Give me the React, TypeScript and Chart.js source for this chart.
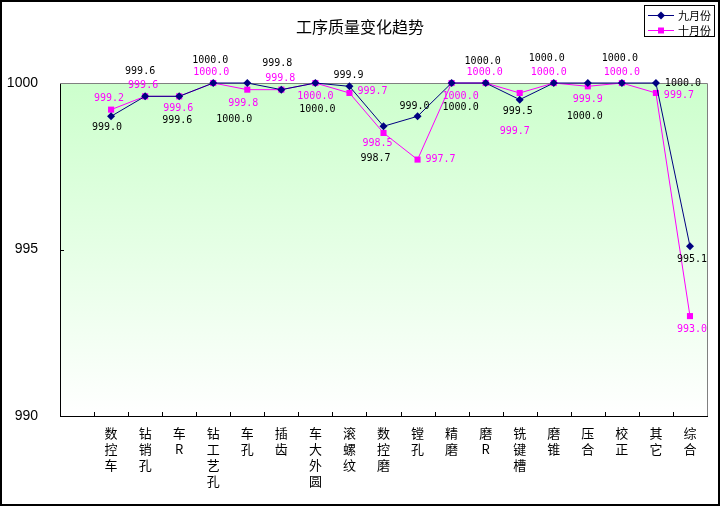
import { useEffect, useRef } from 'react';
import { Chart, registerables } from 'chart.js';

Chart.register(...registerables);

const chartTitle = '工序质量变化趋势';
const categories = ['', '数控车', '钻销孔', '车R', '钻工艺孔', '车孔', '插齿', '车大外圆', '滚螺纹', '数控磨', '镗孔', '精磨', '磨R', '铣键槽', '磨锥', '压合', '校正', '其它', '综合'];
const seriesNames = ['九月份', '十月份'];
const sepValues = [null, 999.0, 999.6, 999.6, 1000.0, 1000.0, 999.8, 1000.0, 999.9, 998.7, 999.0, 1000.0, 1000.0, 999.5, 1000.0, 1000.0, 1000.0, 1000.0, 995.1];
const octValues = [null, 999.2, 999.6, 999.6, 1000.0, 999.8, 999.8, 1000.0, 999.7, 998.5, 997.7, 1000.0, 1000.0, 999.7, 1000.0, 999.9, 1000.0, 999.7, 993.0];
const yMin = 990;
const yMax = 1000;
const yStep = 5;

// label placement (dx, dy from the point), styling only
const sepLabelOffsets: (number[] | null)[] = [null, [-4, 11], [-5, -25], [-2, 24], [-3, -23], [-13, 36], [-4, -26], [2, 26], [-1, -11], [-8, 32], [-3, -10], [9, 24], [-3, -22], [-2, 12], [-7, -25], [-3, 33], [-2, -25], [27, 0], [2, 13]];
const octLabelOffsets: (number[] | null)[] = [null, [-2, -11], [-2, -11], [-1, 12], [-2, -11], [-4, 14], [-1, -11], [0, 13], [23, -2], [-6, 10], [23, 0], [9, 13], [-1, -11], [-5, 38], [-5, -11], [0, 13], [0, -11], [23, 2], [2, 13]];

const NAVY = '#000080';
const MAGENTA = '#ff00ff';

const decorPlugin = {
  id: 'decor',
  beforeDraw(chart: any) {
    const { ctx, chartArea: a, width, height } = chart;
    ctx.save();
    ctx.fillStyle = '#ffffff';
    ctx.fillRect(0, 0, width, height);
    const g = ctx.createLinearGradient(0, a.top, 0, a.bottom);
    g.addColorStop(0, '#ccffcc');
    g.addColorStop(1, '#ffffff');
    ctx.fillStyle = g;
    ctx.fillRect(a.left, a.top, a.right - a.left, a.bottom - a.top);
    ctx.restore();
  },
  beforeDatasetsDraw(chart: any) {
    const { ctx, chartArea: a } = chart;
    ctx.save();
    ctx.strokeStyle = '#808080';
    ctx.lineWidth = 1;
    ctx.beginPath();
    ctx.moveTo(a.left, Math.round(a.top) + 0.5);
    ctx.lineTo(Math.round(a.right) + 0.5, Math.round(a.top) + 0.5);
    ctx.lineTo(Math.round(a.right) + 0.5, a.bottom);
    ctx.stroke();
    // inner tick marks
    ctx.strokeStyle = '#000000';
    const ys = chart.scales.y;
    const n = categories.length;
    const w = (a.right - a.left) / n;
    ctx.beginPath();
    for (let i = 1; i < n; i++) {
      const x = Math.round(a.left + w * i) + 0.5;
      ctx.moveTo(x, a.bottom);
      ctx.lineTo(x, a.bottom - 4);
    }
    for (let v = yMin + yStep; v < yMax; v += yStep) {
      const y = Math.round(ys.getPixelForValue(v)) + 0.5;
      ctx.moveTo(a.left, y);
      ctx.lineTo(a.left + 4, y);
    }
    ctx.stroke();
    ctx.restore();
  },
  afterDatasetsDraw(chart: any) {
    const { ctx } = chart;
    ctx.save();
    ctx.font = '10px "DejaVu Sans Mono"';
    ctx.textAlign = 'center';
    ctx.textBaseline = 'middle';
    const sets = [
      { idx: 0, values: sepValues, offs: sepLabelOffsets, color: '#000000' },
      { idx: 1, values: octValues, offs: octLabelOffsets, color: MAGENTA },
    ];
    sets.forEach((s) => {
      const meta = chart.getDatasetMeta(s.idx);
      ctx.fillStyle = s.color;
      s.values.forEach((v, i) => {
        const o = s.offs[i];
        if (v == null || !o) return;
        const el = meta.data[i];
        ctx.fillText((v as number).toFixed(1), el.x + o[0], el.y + o[1]);
      });
    });
    ctx.restore();
  },
  afterDraw(chart: any) {
    const { ctx } = chart;
    ctx.save();
    // title
    ctx.fillStyle = '#000000';
    ctx.font = '16px "Noto Sans CJK SC"';
    ctx.textAlign = 'center';
    ctx.textBaseline = 'middle';
    ctx.fillText(chartTitle, 360, 27);
    // legend
    ctx.fillStyle = '#ffffff';
    ctx.fillRect(644.5, 5.5, 70, 31);
    ctx.strokeStyle = '#000000';
    ctx.lineWidth = 1;
    ctx.strokeRect(644.5, 5.5, 70, 31);
    const rows = [
      { y: 15.5, color: NAVY, style: 'diamond' },
      { y: 30.5, color: MAGENTA, style: 'square' },
    ];
    rows.forEach((r, i) => {
      ctx.strokeStyle = r.color;
      ctx.beginPath();
      ctx.moveTo(648, r.y);
      ctx.lineTo(674, r.y);
      ctx.stroke();
      ctx.fillStyle = r.color;
      ctx.beginPath();
      if (r.style === 'diamond') {
        ctx.moveTo(661, r.y - 4);
        ctx.lineTo(665, r.y);
        ctx.lineTo(661, r.y + 4);
        ctx.lineTo(657, r.y);
        ctx.closePath();
      } else {
        ctx.rect(658, r.y - 3, 6, 6);
      }
      ctx.fill();
      ctx.fillStyle = '#000000';
      ctx.font = '11px "Noto Sans CJK SC"';
      ctx.textAlign = 'left';
      ctx.textBaseline = 'middle';
      ctx.fillText(seriesNames[i], 678, r.y);
    });
    // outer frame
    ctx.strokeStyle = '#000000';
    ctx.lineWidth = 2;
    ctx.strokeRect(1, 1, 718, 504);
    ctx.restore();
  },
};

export default function App() {
  const ref = useRef<HTMLCanvasElement | null>(null);
  useEffect(() => {
    document.body.style.margin = '0';
    const canvas = ref.current;
    if (!canvas) return;
    const chart = new Chart(canvas, {
      type: 'line',
      data: {
        labels: categories.map((c) => c.split('')),
        datasets: [
          {
            label: seriesNames[0],
            data: sepValues,
            borderColor: NAVY,
            backgroundColor: NAVY,
            borderWidth: 1,
            pointStyle: 'rectRot',
            pointRadius: 4,
            pointBorderWidth: 0,
            pointBackgroundColor: NAVY,
            tension: 0,
            clip: false,
          },
          {
            label: seriesNames[1],
            data: octValues,
            borderColor: MAGENTA,
            backgroundColor: MAGENTA,
            borderWidth: 1,
            pointStyle: 'rect',
            pointRadius: 4.3,
            pointBorderWidth: 0,
            pointBackgroundColor: MAGENTA,
            tension: 0,
            clip: false,
          },
        ],
      },
      options: {
        animation: false,
        responsive: false,
        devicePixelRatio: 1,
        layout: { padding: { top: 83, right: 14, bottom: 0, left: 0 } },
        plugins: {
          legend: { display: false },
          title: { display: false },
          tooltip: { enabled: false },
        },
        events: [],
        scales: {
          x: {
            type: 'category',
            offset: true,
            grid: { display: false, drawTicks: false },
            border: { display: true, color: '#000000', width: 1 },
            ticks: {
              autoSkip: false,
              maxRotation: 0,
              minRotation: 0,
              padding: 9,
              color: '#000000',
              font: { family: '"Noto Sans CJK SC"', size: 13, lineHeight: '16px' },
            },
            afterFit(scale: any) {
              scale.height = 91;
            },
          },
          y: {
            min: yMin,
            max: yMax,
            grid: { display: false, drawTicks: false },
            border: { display: true, color: '#000000', width: 1 },
            ticks: {
              stepSize: yStep,
              padding: 22,
              color: '#000000',
              font: { family: '"Liberation Sans"', size: 14 },
              callback: (v: any) => String(v),
            },
            afterFit(scale: any) {
              scale.width = 60;
            },
          },
        },
      },
      plugins: [decorPlugin],
    });
    return () => chart.destroy();
  }, []);
  return (
    <div style={{ position: 'absolute', left: 0, top: 0, width: 721, height: 507 }}>
      <canvas ref={ref} width={721} height={507} style={{ width: 721, height: 507 }} />
    </div>
  );
}
